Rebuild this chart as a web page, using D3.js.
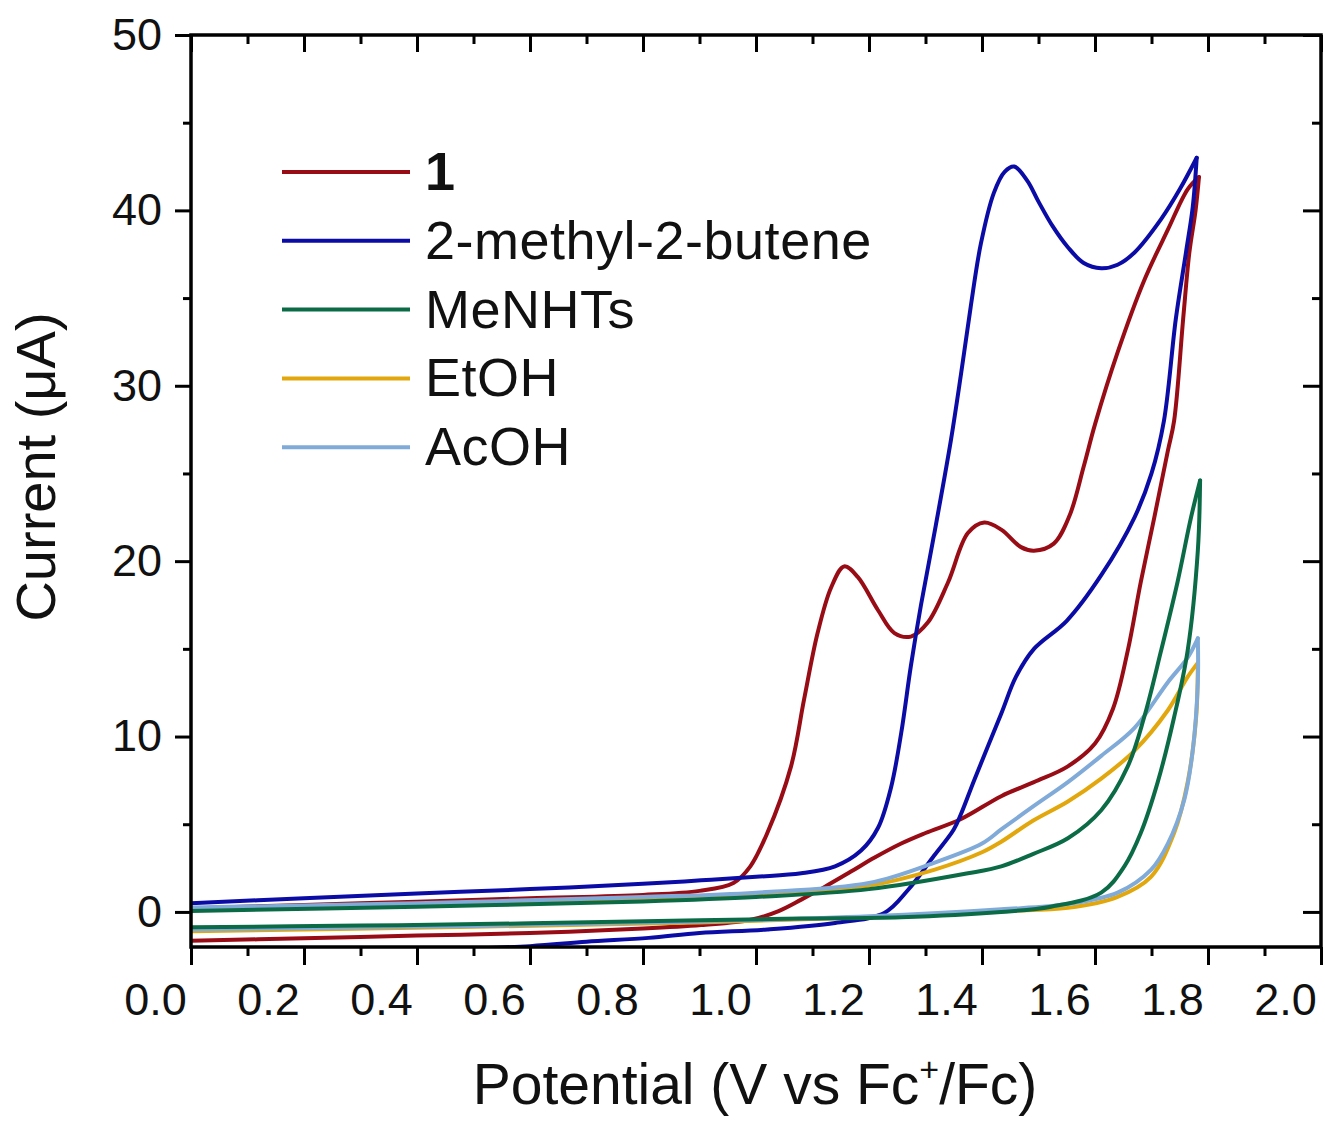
<!DOCTYPE html>
<html>
<head>
<meta charset="utf-8">
<script src="https://cdn.jsdelivr.net/npm/d3@7"></script>
<style>
  body { margin: 0; background: #fff; }
  text { font-family: "Liberation Sans", Arial, sans-serif; fill: #111; }
</style>
</head>
<body>
<script>
// series names + colours (legend order)
const seriesNames = ['1', '2-methyl-2-butene', 'MeNHTs', 'EtOH', 'AcOH'];
const seriesColors = ['#980c16', '#0b0ba6', '#0c6b47', '#e2a70c', '#80aad8'];

// [potential V, current uA], forward (anodic) scan then reverse
const cv1Forward = [[0.00,0.20],[0.20,0.40],[0.40,0.58],[0.60,0.78],[0.80,0.97],[0.90,1.20],[0.96,1.65],[0.99,2.6],[1.02,4.5],[1.062,8.3],[1.085,12.1],[1.109,15.9],[1.133,18.5],[1.156,19.7],[1.18,19.1],[1.216,17.2],[1.245,15.9],[1.274,15.7],[1.304,16.5],[1.34,18.8],[1.375,21.6],[1.404,22.2],[1.434,21.8],[1.469,20.8],[1.492,20.6],[1.527,21.0],[1.555,22.6],[1.58,25.4],[1.60,27.8],[1.64,31.9],[1.687,36.0],[1.729,38.9],[1.764,41.2],[1.784,41.9]];
const cv1Reverse = [[1.784,41.9],[1.778,40.0],[1.767,37.6],[1.756,33.8],[1.74,28.0],[1.729,26.3],[1.705,22.5],[1.681,18.8],[1.658,14.9],[1.632,11.6],[1.60,9.6],[1.552,8.3],[1.492,7.4],[1.434,6.6],[1.363,5.3],[1.30,4.5],[1.257,3.9],[1.21,3.1],[1.168,2.3],[1.12,1.4],[1.08,0.7],[1.04,0.05],[0.991,-0.45],[0.903,-0.75],[0.80,-0.95],[0.60,-1.2],[0.40,-1.35],[0.20,-1.5],[0.00,-1.65]];

const butForward = [[0.00,0.50],[0.20,0.78],[0.40,1.05],[0.60,1.30],[0.80,1.60],[0.903,1.80],[1.00,2.00],[1.08,2.20],[1.14,2.60],[1.186,3.5],[1.216,4.8],[1.239,7.1],[1.257,10.2],[1.274,14.0],[1.292,17.5],[1.318,22.0],[1.345,26.9],[1.363,30.7],[1.38,34.5],[1.398,38.1],[1.421,41.0],[1.44,42.2],[1.457,42.5],[1.48,41.7],[1.50,40.5],[1.525,39.1],[1.552,37.9],[1.58,37.0],[1.611,36.7],[1.64,36.9],[1.67,37.6],[1.717,39.5],[1.75,41.2],[1.78,43.0]];
const butReverse = [[1.78,43.0],[1.773,40.2],[1.761,37.6],[1.743,33.8],[1.722,28.0],[1.70,25.0],[1.67,22.5],[1.611,19.2],[1.55,16.6],[1.492,15.0],[1.46,13.4],[1.434,11.3],[1.386,7.5],[1.363,5.6],[1.35,4.7],[1.315,3.2],[1.269,1.25],[1.227,-0.06],[1.14,-0.63],[1.02,-1.0],[0.90,-1.2],[0.81,-1.48],[0.70,-1.7],[0.60,-1.95],[0.40,-2.2],[0.20,-2.4],[0.00,-2.6]];

const meForward = [[0.00,0.05],[0.40,0.30],[0.80,0.60],[1.00,0.85],[1.20,1.30],[1.375,2.2],[1.434,2.6],[1.49,3.3],[1.552,4.2],[1.611,5.8],[1.658,8.3],[1.687,11.1],[1.717,14.9],[1.746,18.8],[1.77,22.5],[1.786,24.6]];
const meReverse = [[1.786,24.6],[1.782,20.6],[1.764,14.9],[1.74,11.1],[1.711,7.4],[1.681,4.5],[1.652,2.6],[1.611,1.1],[1.522,0.3],[1.434,0.0],[1.257,-0.3],[1.08,-0.38],[0.90,-0.48],[0.60,-0.65],[0.30,-0.78],[0.00,-0.88]];

const etohForward = [[0.00,0.15],[0.40,0.40],[0.80,0.75],[1.00,0.95],[1.20,1.50],[1.315,2.4],[1.40,3.4],[1.434,4.0],[1.49,5.2],[1.552,6.3],[1.611,7.6],[1.67,9.2],[1.729,11.5],[1.764,13.4],[1.782,14.2]];
const etohReverse = [[1.782,14.2],[1.779,11.1],[1.764,7.4],[1.74,4.5],[1.699,2.0],[1.64,0.86],[1.552,0.23],[1.434,0.05],[1.20,-0.30],[0.90,-0.60],[0.50,-0.85],[0.00,-1.10]];

const acohForward = [[0.00,0.25],[0.40,0.50],[0.80,0.85],[1.00,1.10],[1.20,1.65],[1.315,2.8],[1.40,3.9],[1.434,4.7],[1.49,6.0],[1.552,7.4],[1.611,8.9],[1.67,10.5],[1.729,13.1],[1.764,14.5],[1.782,15.6]];
const acohReverse = [[1.782,15.6],[1.782,13.1],[1.773,9.2],[1.758,6.4],[1.729,3.9],[1.699,2.4],[1.64,1.1],[1.552,0.45],[1.434,0.15],[1.20,-0.25],[0.90,-0.55],[0.50,-0.80],[0.00,-1.00]];

const forwardScans = [cv1Forward, butForward, meForward, etohForward, acohForward];
const reverseScans = [cv1Reverse, butReverse, meReverse, etohReverse, acohReverse];
const drawOrder = [0, 1, 3, 4, 2];

const xTicks = [0.0, 0.2, 0.4, 0.6, 0.8, 1.0, 1.2, 1.4, 1.6, 1.8, 2.0];
const xMinorTicks = [0.1, 0.3, 0.5, 0.7, 0.9, 1.1, 1.3, 1.5, 1.7, 1.9];
const yTicks = [0, 10, 20, 30, 40, 50];
const yMinorTicks = [5, 15, 25, 35, 45];

const W = 1325, H = 1121;
const x = d3.scaleLinear().domain([0, 2]).range([191, 1321]);
const y = d3.scaleLinear().domain([-2, 50]).range([947, 35]);

const svg = d3.select('body').append('svg')
    .attr('width', W)
    .attr('height', H);

svg.append('rect').attr('width', W).attr('height', H).attr('fill', '#fff');

svg.append('clipPath').attr('id', 'plotClip')
  .append('rect')
    .attr('x', x(0)).attr('y', y(50))
    .attr('width', x(2) - x(0))
    .attr('height', y(-2) - y(50));

const line = d3.line()
    .x(d => x(d[0]))
    .y(d => y(d[1]))
    .curve(d3.curveCatmullRom.alpha(0.5));

const plot = svg.append('g').attr('clip-path', 'url(#plotClip)');
drawOrder.forEach(i => {
  [forwardScans[i], reverseScans[i]].forEach(pts => {
    plot.append('path')
        .attr('d', line(pts))
        .attr('fill', 'none')
        .attr('stroke', seriesColors[i])
        .attr('stroke-width', 4)
        .attr('stroke-linecap', 'round')
        .attr('stroke-linejoin', 'round');
  });
});

// axes - bottom/left ticks out, top/right ticks in
function styleAxis(g) {
  g.select('.domain').remove();
  g.selectAll('.tick line').attr('stroke', '#000').attr('stroke-width', 3);
  g.selectAll('text').attr('font-size', 45).attr('fill', '#111');
}

const axisBottomG = svg.append('g').attr('transform', `translate(0,${y(-2)})`);
axisBottomG.append('g').call(d3.axisBottom(x).tickValues(xMinorTicks).tickSize(9).tickFormat('')).call(styleAxis);
axisBottomG.append('g').call(d3.axisBottom(x).tickValues(xTicks).tickSize(18).tickFormat(d3.format('.1f'))).call(styleAxis);
axisBottomG.selectAll('text').attr('x', -36).attr('y', 36);

const axisLeftG = svg.append('g').attr('transform', `translate(${x(0)},0)`);
axisLeftG.append('g').call(d3.axisLeft(y).tickValues(yMinorTicks).tickSize(8).tickFormat('')).call(styleAxis);
axisLeftG.append('g').call(d3.axisLeft(y).tickValues(yTicks).tickSize(16).tickPadding(13).tickFormat(d3.format('d'))).call(styleAxis);

const axisTopG = svg.append('g').attr('transform', `translate(0,${y(50)})`);
axisTopG.append('g').call(d3.axisTop(x).tickValues(xMinorTicks).tickSize(-9).tickFormat('')).call(styleAxis);
axisTopG.append('g').call(d3.axisTop(x).tickValues(xTicks).tickSize(-17).tickFormat('')).call(styleAxis);

const axisRightG = svg.append('g').attr('transform', `translate(${x(2)},0)`);
axisRightG.append('g').call(d3.axisRight(y).tickValues(yMinorTicks).tickSize(-9).tickFormat('')).call(styleAxis);
axisRightG.append('g').call(d3.axisRight(y).tickValues(yTicks).tickSize(-18).tickFormat('')).call(styleAxis);

svg.append('rect')
    .attr('x', x(0)).attr('y', y(50))
    .attr('width', x(2) - x(0))
    .attr('height', y(-2) - y(50))
    .attr('fill', 'none')
    .attr('stroke', '#000')
    .attr('stroke-width', 3.5);

// axis titles
const xTitle = svg.append('text')
    .attr('x', 755).attr('y', 1104)
    .attr('text-anchor', 'middle')
    .attr('font-size', 57);
xTitle.append('tspan').text('Potential (V vs Fc');
xTitle.append('tspan').attr('font-size', 34).attr('dy', -23).text('+');
xTitle.append('tspan').attr('dy', 23).text('/Fc)');

svg.append('text')
    .attr('transform', 'translate(55,467) rotate(-90)')
    .attr('text-anchor', 'middle')
    .attr('font-size', 56)
    .text('Current (\u03bcA)');

// legend
const legend = svg.append('g');
seriesNames.forEach((name, i) => {
  const ly = 172 + i * 68.8;
  legend.append('line')
      .attr('x1', 282).attr('x2', 410)
      .attr('y1', ly).attr('y2', ly)
      .attr('stroke', seriesColors[i])
      .attr('stroke-width', 4);
  legend.append('text')
      .attr('x', 425).attr('y', ly + 18)
      .attr('font-size', 54)
      .attr('letter-spacing', 0.5)
      .attr('font-weight', i === 0 ? 'bold' : 'normal')
      .text(name);
});
</script>
</body>
</html>
